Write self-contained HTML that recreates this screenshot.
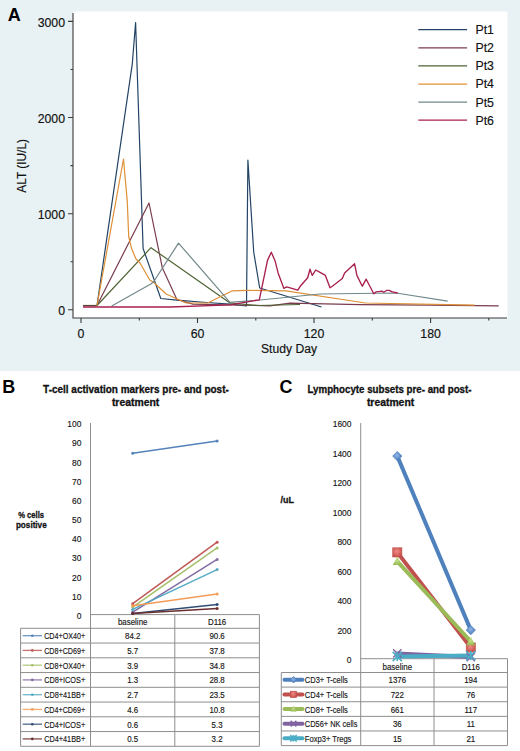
<!DOCTYPE html>
<html><head><meta charset="utf-8"><style>
html,body{margin:0;padding:0;background:#fff;width:520px;height:751px;overflow:hidden}
svg{display:block}
text{font-family:"Liberation Sans", sans-serif;fill:#111}
.a{font-size:12.3px;fill:#111;stroke:#111;stroke-width:0.15px}
.p{font-size:18px;font-weight:bold;fill:#000}
text[font-weight="bold"]{fill:#111;stroke:#111;stroke-width:0.3px}
.cr{stroke:#222;stroke-width:0.15px}
</style></head><body>
<svg width="520" height="751" viewBox="0 0 520 751">
<rect x="0" y="0" width="520" height="371" fill="#e8f1f3"/>
<rect x="73" y="11.5" width="434.5" height="306.5" fill="#fff"/>
<path d="M73 13V318H507" fill="none" stroke="#3a3a3a" stroke-width="1.1"/>
<path d="M68 309.8H73 M68 213.7H73 M68 117.5H73 M68 21.4H73 M70.5 261.7H73 M70.5 165.6H73 M70.5 69.5H73 M81.0 318V323 M197.5 318V323 M314.0 318V323 M430.6 318V323 M139.3 318V320.5 M255.8 318V320.5 M372.3 318V320.5 M488.8 318V320.5" stroke="#3a3a3a" stroke-width="1.1" fill="none"/>
<text x="65" y="315.0" text-anchor="end" class="a">0</text>
<text x="65" y="218.9" text-anchor="end" class="a">1000</text>
<text x="65" y="122.7" text-anchor="end" class="a">2000</text>
<text x="65" y="26.6" text-anchor="end" class="a">3000</text>
<text x="81.0" y="337.9" text-anchor="middle" class="a">0</text>
<text x="197.5" y="337.9" text-anchor="middle" class="a">60</text>
<text x="314.0" y="337.9" text-anchor="middle" class="a">120</text>
<text x="430.6" y="337.9" text-anchor="middle" class="a">180</text>
<text x="289" y="352.6" text-anchor="middle" class="a" textLength="56" lengthAdjust="spacingAndGlyphs">Study Day</text>
<text transform="translate(26 165.9) rotate(-90)" text-anchor="middle" class="a" style="font-size:11.9px">ALT (IU/L)</text>
<text x="7.8" y="20.8" class="p">A</text>
<path d="M418.3 29.7H467.1" stroke="#234466" stroke-width="1.25"/>
<text x="475.5" y="34.1" class="a">Pt1</text>
<path d="M418.3 47.8H467.1" stroke="#7a3c4c" stroke-width="1.25"/>
<text x="475.5" y="52.2" class="a">Pt2</text>
<path d="M418.3 65.9H467.1" stroke="#4e6434" stroke-width="1.25"/>
<text x="475.5" y="70.3" class="a">Pt3</text>
<path d="M418.3 84.0H467.1" stroke="#de9036" stroke-width="1.25"/>
<text x="475.5" y="88.4" class="a">Pt4</text>
<path d="M418.3 102.1H467.1" stroke="#72888a" stroke-width="1.25"/>
<text x="475.5" y="106.5" class="a">Pt5</text>
<path d="M418.3 120.2H467.1" stroke="#a82050" stroke-width="1.25"/>
<text x="475.5" y="124.6" class="a">Pt6</text>
<polyline points="83.0,305.5 97.0,305.5 132.3,63.8 135.6,22.5 143.1,248.5 160.8,298.5 176.9,300.2 206.9,302.5 230.0,304.2 246.5,306.0 247.9,160.0 253.7,252.0 259.7,288.0 321.5,307.0" fill="none" stroke="#234466" stroke-width="1.2" stroke-linejoin="round"/>
<polyline points="83.0,305.5 97.0,305.5 149.0,203.0 162.3,267.7 176.9,299.5 193.0,304.2 270.0,305.8 290.0,303.2 360.0,304.6 430.0,305.2 498.7,305.8" fill="none" stroke="#7a3c4c" stroke-width="1.2" stroke-linejoin="round"/>
<polyline points="83.0,305.5 97.0,305.5 151.0,247.7 230.0,303.0 258.0,305.5 300.0,304.5" fill="none" stroke="#4e6434" stroke-width="1.2" stroke-linejoin="round"/>
<polyline points="83.0,305.5 97.0,305.5 123.5,159.0 127.3,201.9 128.7,236.5 131.6,248.6 136.0,259.0 140.0,263.0 149.8,280.0 153.8,282.5 166.2,294.0 186.0,303.0 207.7,303.0 232.3,290.8 247.0,290.4 286.0,290.8 365.4,303.0 474.5,305.1" fill="none" stroke="#de9036" stroke-width="1.2" stroke-linejoin="round"/>
<path d="M83 305.6H96.5" stroke="#5e4a34" stroke-width="1.4"/>
<polyline points="111.7,306.0 150.8,284.0 153.5,282.0 178.5,243.1 230.0,302.3 260.0,300.0 300.0,296.0 320.0,294.0 396.0,293.0 447.7,301.1" fill="none" stroke="#72888a" stroke-width="1.2" stroke-linejoin="round"/>
<polyline points="83.0,307.0 170.0,307.0 230.0,304.8 259.3,299.8 267.5,260.4 271.3,252.2 275.2,261.3 278.1,272.9 283.8,288.3 286.7,286.8 297.8,290.2 300.2,286.3 307.7,277.7 310.0,269.2 312.3,275.4 315.7,270.0 320.0,272.3 325.4,275.4 330.0,287.7 332.3,286.2 342.3,278.5 344.6,273.0 354.6,263.8 356.9,275.4 362.3,286.2 366.2,279.2 373.8,293.8 376.2,291.8 382.3,291.2 383.8,292.3 386.9,290.3 389.2,290.3 392.3,291.8 397.7,293.0" fill="none" stroke="#a82050" stroke-width="1.35" stroke-linejoin="round"/>
<text x="2.2" y="392.6" class="p">B</text>
<text x="43.1" y="392.8" font-size="10.2" font-weight="bold" textLength="185.7" lengthAdjust="spacingAndGlyphs">T-cell activation markers pre- and post-</text>
<text x="111.9" y="406" font-size="10.2" font-weight="bold" textLength="47.4" lengthAdjust="spacingAndGlyphs">treatment</text>
<text x="18.2" y="517.6" font-size="9.6" font-weight="bold" textLength="25.9" lengthAdjust="spacingAndGlyphs">% cells</text>
<text x="15.9" y="528.3" font-size="9.6" font-weight="bold" textLength="30.8" lengthAdjust="spacingAndGlyphs">positive</text>
<text class="cr" x="76.71" y="618.90" font-size="9.8" fill="#222" textLength="4.69" lengthAdjust="spacingAndGlyphs">0</text>
<text class="cr" x="72.03" y="599.74" font-size="9.8" fill="#222" textLength="9.37" lengthAdjust="spacingAndGlyphs">10</text>
<text class="cr" x="72.03" y="580.58" font-size="9.8" fill="#222" textLength="9.37" lengthAdjust="spacingAndGlyphs">20</text>
<text class="cr" x="72.03" y="561.42" font-size="9.8" fill="#222" textLength="9.37" lengthAdjust="spacingAndGlyphs">30</text>
<text class="cr" x="72.03" y="542.26" font-size="9.8" fill="#222" textLength="9.37" lengthAdjust="spacingAndGlyphs">40</text>
<text class="cr" x="72.03" y="523.10" font-size="9.8" fill="#222" textLength="9.37" lengthAdjust="spacingAndGlyphs">50</text>
<text class="cr" x="72.03" y="503.94" font-size="9.8" fill="#222" textLength="9.37" lengthAdjust="spacingAndGlyphs">60</text>
<text class="cr" x="72.03" y="484.78" font-size="9.8" fill="#222" textLength="9.37" lengthAdjust="spacingAndGlyphs">70</text>
<text class="cr" x="72.03" y="465.62" font-size="9.8" fill="#222" textLength="9.37" lengthAdjust="spacingAndGlyphs">80</text>
<text class="cr" x="72.03" y="446.46" font-size="9.8" fill="#222" textLength="9.37" lengthAdjust="spacingAndGlyphs">90</text>
<text class="cr" x="67.34" y="427.30" font-size="9.8" fill="#222" textLength="14.06" lengthAdjust="spacingAndGlyphs">100</text>
<path d="M90.5 423V746.3 M90.5 614.6H259.4 M20.6 628.30H259.4 M20.6 643.05H259.4 M20.6 657.80H259.4 M20.6 672.55H259.4 M20.6 687.30H259.4 M20.6 702.05H259.4 M20.6 716.80H259.4 M20.6 731.55H259.4 M20.6 746.30H259.4 M20.6 628.3V746.3 M174.8 614.6V746.3 M259.4 614.6V746.3" stroke="#8e8e8e" stroke-width="1" fill="none"/>
<text class="cr" x="117.95" y="624.80" font-size="9.0" fill="#222" textLength="29.50" lengthAdjust="spacingAndGlyphs">baseline</text>
<text class="cr" x="207.93" y="624.80" font-size="9.0" fill="#222" textLength="18.35" lengthAdjust="spacingAndGlyphs">D116</text>
<path d="M132.7 453.3L217.1 441.0" stroke="#5583ba" stroke-width="1.5"/>
<circle cx="132.7" cy="453.3" r="1.5" fill="#5583ba"/><circle cx="217.1" cy="441.0" r="1.5" fill="#5583ba"/>
<path d="M22.7 635.7H42" stroke="#5583ba" stroke-width="1.3" stroke-opacity="0.85"/><circle cx="32.3" cy="635.7" r="1.3" fill="#5583ba"/>
<text class="cr" x="44.2" y="639.1" font-size="9.9" fill="#222" textLength="41" lengthAdjust="spacingAndGlyphs">CD4+OX40+</text>
<text class="cr" x="124.99" y="639.20" font-size="9.0" fill="#222" textLength="15.41" lengthAdjust="spacingAndGlyphs">84.2</text>
<text class="cr" x="209.39" y="639.20" font-size="9.0" fill="#222" textLength="15.41" lengthAdjust="spacingAndGlyphs">90.6</text>
<path d="M132.7 603.7L217.1 542.2" stroke="#c05856" stroke-width="1.5"/>
<circle cx="132.7" cy="603.7" r="1.5" fill="#c05856"/><circle cx="217.1" cy="542.2" r="1.5" fill="#c05856"/>
<path d="M22.7 650.4H42" stroke="#c05856" stroke-width="1.3" stroke-opacity="0.85"/><circle cx="32.3" cy="650.4" r="1.3" fill="#c05856"/>
<text class="cr" x="44.2" y="653.8" font-size="9.9" fill="#222" textLength="41" lengthAdjust="spacingAndGlyphs">CD8+CD69+</text>
<text class="cr" x="127.19" y="653.95" font-size="9.0" fill="#222" textLength="11.01" lengthAdjust="spacingAndGlyphs">5.7</text>
<text class="cr" x="209.39" y="653.95" font-size="9.0" fill="#222" textLength="15.41" lengthAdjust="spacingAndGlyphs">37.8</text>
<path d="M132.7 607.1L217.1 547.9" stroke="#a5bf6a" stroke-width="1.5"/>
<circle cx="132.7" cy="607.1" r="1.5" fill="#a5bf6a"/><circle cx="217.1" cy="547.9" r="1.5" fill="#a5bf6a"/>
<path d="M22.7 665.2H42" stroke="#a5bf6a" stroke-width="1.3" stroke-opacity="0.85"/><circle cx="32.3" cy="665.2" r="1.3" fill="#a5bf6a"/>
<text class="cr" x="44.2" y="668.6" font-size="9.9" fill="#222" textLength="41" lengthAdjust="spacingAndGlyphs">CD8+OX40+</text>
<text class="cr" x="127.19" y="668.70" font-size="9.0" fill="#222" textLength="11.01" lengthAdjust="spacingAndGlyphs">3.9</text>
<text class="cr" x="209.39" y="668.70" font-size="9.0" fill="#222" textLength="15.41" lengthAdjust="spacingAndGlyphs">34.8</text>
<path d="M132.7 612.1L217.1 559.4" stroke="#826ca3" stroke-width="1.5"/>
<circle cx="132.7" cy="612.1" r="1.5" fill="#826ca3"/><circle cx="217.1" cy="559.4" r="1.5" fill="#826ca3"/>
<path d="M22.7 679.9H42" stroke="#826ca3" stroke-width="1.3" stroke-opacity="0.85"/><circle cx="32.3" cy="679.9" r="1.3" fill="#826ca3"/>
<text class="cr" x="44.2" y="683.3" font-size="9.9" fill="#222" textLength="41" lengthAdjust="spacingAndGlyphs">CD8+ICOS+</text>
<text class="cr" x="127.19" y="683.45" font-size="9.0" fill="#222" textLength="11.01" lengthAdjust="spacingAndGlyphs">1.3</text>
<text class="cr" x="209.39" y="683.45" font-size="9.0" fill="#222" textLength="15.41" lengthAdjust="spacingAndGlyphs">28.8</text>
<path d="M132.7 609.4L217.1 569.6" stroke="#55aac3" stroke-width="1.5"/>
<circle cx="132.7" cy="609.4" r="1.5" fill="#55aac3"/><circle cx="217.1" cy="569.6" r="1.5" fill="#55aac3"/>
<path d="M22.7 694.7H42" stroke="#55aac3" stroke-width="1.3" stroke-opacity="0.85"/><circle cx="32.3" cy="694.7" r="1.3" fill="#55aac3"/>
<text class="cr" x="44.2" y="698.1" font-size="9.9" fill="#222" textLength="41" lengthAdjust="spacingAndGlyphs">CD8+41BB+</text>
<text class="cr" x="127.19" y="698.20" font-size="9.0" fill="#222" textLength="11.01" lengthAdjust="spacingAndGlyphs">2.7</text>
<text class="cr" x="209.39" y="698.20" font-size="9.0" fill="#222" textLength="15.41" lengthAdjust="spacingAndGlyphs">23.5</text>
<path d="M132.7 605.8L217.1 593.9" stroke="#f39c58" stroke-width="1.5"/>
<circle cx="132.7" cy="605.8" r="1.5" fill="#f39c58"/><circle cx="217.1" cy="593.9" r="1.5" fill="#f39c58"/>
<path d="M22.7 709.4H42" stroke="#f39c58" stroke-width="1.3" stroke-opacity="0.85"/><circle cx="32.3" cy="709.4" r="1.3" fill="#f39c58"/>
<text class="cr" x="44.2" y="712.8" font-size="9.9" fill="#222" textLength="41" lengthAdjust="spacingAndGlyphs">CD4+CD69+</text>
<text class="cr" x="127.19" y="712.95" font-size="9.0" fill="#222" textLength="11.01" lengthAdjust="spacingAndGlyphs">4.6</text>
<text class="cr" x="209.39" y="712.95" font-size="9.0" fill="#222" textLength="15.41" lengthAdjust="spacingAndGlyphs">10.8</text>
<path d="M132.7 613.5L217.1 604.4" stroke="#2f4c72" stroke-width="1.5"/>
<circle cx="132.7" cy="613.5" r="1.5" fill="#2f4c72"/><circle cx="217.1" cy="604.4" r="1.5" fill="#2f4c72"/>
<path d="M22.7 724.2H42" stroke="#2f4c72" stroke-width="1.3" stroke-opacity="0.85"/><circle cx="32.3" cy="724.2" r="1.3" fill="#2f4c72"/>
<text class="cr" x="44.2" y="727.6" font-size="9.9" fill="#222" textLength="41" lengthAdjust="spacingAndGlyphs">CD4+ICOS+</text>
<text class="cr" x="127.19" y="727.70" font-size="9.0" fill="#222" textLength="11.01" lengthAdjust="spacingAndGlyphs">0.6</text>
<text class="cr" x="211.59" y="727.70" font-size="9.0" fill="#222" textLength="11.01" lengthAdjust="spacingAndGlyphs">5.3</text>
<path d="M132.7 613.6L217.1 608.5" stroke="#6c2e2e" stroke-width="1.5"/>
<circle cx="132.7" cy="613.6" r="1.5" fill="#6c2e2e"/><circle cx="217.1" cy="608.5" r="1.5" fill="#6c2e2e"/>
<path d="M22.7 738.9H42" stroke="#6c2e2e" stroke-width="1.3" stroke-opacity="0.85"/><circle cx="32.3" cy="738.9" r="1.3" fill="#6c2e2e"/>
<text class="cr" x="44.2" y="742.3" font-size="9.9" fill="#222" textLength="41" lengthAdjust="spacingAndGlyphs">CD4+41BB+</text>
<text class="cr" x="127.19" y="742.45" font-size="9.0" fill="#222" textLength="11.01" lengthAdjust="spacingAndGlyphs">0.5</text>
<text class="cr" x="211.59" y="742.45" font-size="9.0" fill="#222" textLength="11.01" lengthAdjust="spacingAndGlyphs">3.2</text>
<text x="279.5" y="392.6" class="p">C</text>
<text x="307.5" y="392.6" font-size="10.2" font-weight="bold" textLength="164" lengthAdjust="spacingAndGlyphs">Lymphocyte subsets pre- and post-</text>
<text x="366.9" y="406" font-size="10.2" font-weight="bold" textLength="47.3" lengthAdjust="spacingAndGlyphs">treatment</text>
<text x="280.6" y="503.1" font-size="9.6" font-weight="bold" textLength="13.4" lengthAdjust="spacingAndGlyphs">/uL</text>
<text class="cr" x="346.81" y="663.00" font-size="9.8" fill="#222" textLength="4.69" lengthAdjust="spacingAndGlyphs">0</text>
<text class="cr" x="337.44" y="633.55" font-size="9.8" fill="#222" textLength="14.06" lengthAdjust="spacingAndGlyphs">200</text>
<text class="cr" x="337.44" y="604.10" font-size="9.8" fill="#222" textLength="14.06" lengthAdjust="spacingAndGlyphs">400</text>
<text class="cr" x="337.44" y="574.65" font-size="9.8" fill="#222" textLength="14.06" lengthAdjust="spacingAndGlyphs">600</text>
<text class="cr" x="337.44" y="545.20" font-size="9.8" fill="#222" textLength="14.06" lengthAdjust="spacingAndGlyphs">800</text>
<text class="cr" x="332.75" y="515.75" font-size="9.8" fill="#222" textLength="18.75" lengthAdjust="spacingAndGlyphs">1000</text>
<text class="cr" x="332.75" y="486.30" font-size="9.8" fill="#222" textLength="18.75" lengthAdjust="spacingAndGlyphs">1200</text>
<text class="cr" x="332.75" y="456.85" font-size="9.8" fill="#222" textLength="18.75" lengthAdjust="spacingAndGlyphs">1400</text>
<text class="cr" x="332.75" y="427.40" font-size="9.8" fill="#222" textLength="18.75" lengthAdjust="spacingAndGlyphs">1600</text>
<path d="M360.7 423.1V745.6 M360.7 658.7H507.5 M281.3 672.50H507.5 M281.3 687.12H507.5 M281.3 701.74H507.5 M281.3 716.36H507.5 M281.3 730.98H507.5 M281.3 745.60H507.5 M281.3 672.5V745.6 M434 658.7V745.6 M507.5 658.7V745.6" stroke="#8e8e8e" stroke-width="1" fill="none"/>
<text class="cr" x="382.55" y="669.80" font-size="9.0" fill="#222" textLength="29.50" lengthAdjust="spacingAndGlyphs">baseline</text>
<text class="cr" x="461.63" y="669.80" font-size="9.0" fill="#222" textLength="18.35" lengthAdjust="spacingAndGlyphs">D116</text>
<defs><radialGradient id="gb" cx="0.45" cy="0.4" r="0.6"><stop offset="0" stop-color="#8fb4e3"/><stop offset="1" stop-color="#4a7cc0"/></radialGradient><radialGradient id="gr" cx="0.45" cy="0.4" r="0.6"><stop offset="0" stop-color="#f08a86"/><stop offset="1" stop-color="#c8504c"/></radialGradient><radialGradient id="gg" cx="0.45" cy="0.4" r="0.6"><stop offset="0" stop-color="#c4e08a"/><stop offset="1" stop-color="#98bb55"/></radialGradient></defs>
<path d="M284.5 679.8H302.5" stroke="#4f81bd" stroke-width="4" stroke-linecap="round"/>
<path d="M293.5 676.6L296.7 679.8L293.5 683L290.3 679.8Z" fill="url(#gb)" stroke="#4f81bd" stroke-width="0.8"/>
<text class="cr" x="304.8" y="683.3" font-size="9.9" fill="#222" textLength="43" lengthAdjust="spacingAndGlyphs">CD3+ T-cells</text>
<text class="cr" x="388.49" y="683.40" font-size="9.0" fill="#222" textLength="17.62" lengthAdjust="spacingAndGlyphs">1376</text>
<text class="cr" x="464.19" y="683.40" font-size="9.0" fill="#222" textLength="13.21" lengthAdjust="spacingAndGlyphs">194</text>
<path d="M284.5 694.4H302.5" stroke="#c0504d" stroke-width="4" stroke-linecap="round"/>
<rect x="290.3" y="691.2" width="6.4" height="6.4" fill="url(#gr)" stroke="#c0504d" stroke-width="0.6"/>
<text class="cr" x="304.8" y="697.9" font-size="9.9" fill="#222" textLength="43" lengthAdjust="spacingAndGlyphs">CD4+ T-cells</text>
<text class="cr" x="390.69" y="698.02" font-size="9.0" fill="#222" textLength="13.21" lengthAdjust="spacingAndGlyphs">722</text>
<text class="cr" x="466.40" y="698.02" font-size="9.0" fill="#222" textLength="8.81" lengthAdjust="spacingAndGlyphs">76</text>
<path d="M284.5 709.0H302.5" stroke="#9bbb59" stroke-width="4" stroke-linecap="round"/>
<path d="M293.5 705.8L296.7 711.56L290.3 711.56Z" fill="url(#gg)"/>
<text class="cr" x="304.8" y="712.5" font-size="9.9" fill="#222" textLength="43" lengthAdjust="spacingAndGlyphs">CD8+ T-cells</text>
<text class="cr" x="390.69" y="712.64" font-size="9.0" fill="#222" textLength="13.21" lengthAdjust="spacingAndGlyphs">661</text>
<text class="cr" x="464.49" y="712.64" font-size="9.0" fill="#222" textLength="12.63" lengthAdjust="spacingAndGlyphs">117</text>
<path d="M284.5 723.7H302.5" stroke="#8064a2" stroke-width="4" stroke-linecap="round"/>
<path d="M290.62 720.82L296.38 726.58M296.38 720.82L290.62 726.58" stroke="#8064a2" stroke-width="1.4"/>
<text class="cr" x="304.8" y="727.2" font-size="9.9" fill="#222" textLength="52.6" lengthAdjust="spacingAndGlyphs">CD56+ NK cells</text>
<text class="cr" x="392.90" y="727.26" font-size="9.0" fill="#222" textLength="8.81" lengthAdjust="spacingAndGlyphs">36</text>
<text class="cr" x="466.69" y="727.26" font-size="9.0" fill="#222" textLength="8.22" lengthAdjust="spacingAndGlyphs">11</text>
<path d="M284.5 738.3H302.5" stroke="#4bacc6" stroke-width="4" stroke-linecap="round"/>
<path d="M290.3 735.1L296.7 741.5M296.7 735.1L290.3 741.5M293.5 735.1V741.5" stroke="#4bacc6" stroke-width="1.6"/>
<text class="cr" x="304.8" y="741.8" font-size="9.9" fill="#222" textLength="46.6" lengthAdjust="spacingAndGlyphs">Foxp3+ Tregs</text>
<text class="cr" x="392.90" y="741.88" font-size="9.0" fill="#222" textLength="8.81" lengthAdjust="spacingAndGlyphs">15</text>
<text class="cr" x="466.40" y="741.88" font-size="9.0" fill="#222" textLength="8.81" lengthAdjust="spacingAndGlyphs">21</text>
<path d="M397.3 456.1L470.8 630.1" stroke="#4f81bd" stroke-width="4.0" stroke-linecap="round"/>
<path d="M397.3 552.4L470.8 647.5" stroke="#c0504d" stroke-width="4.0" stroke-linecap="round"/>
<path d="M397.3 561.4L470.8 641.5" stroke="#9bbb59" stroke-width="4.0" stroke-linecap="round"/>
<path d="M397.3 653.4L470.8 657.1" stroke="#8064a2" stroke-width="4.0" stroke-linecap="round"/>
<path d="M397.3 656.5L470.8 655.6" stroke="#4bacc6" stroke-width="4.0" stroke-linecap="round"/>
<path d="M397.3 451.5L401.9 456.1L397.3 460.7L392.7 456.1Z" fill="url(#gb)" stroke="#4f81bd" stroke-width="0.8"/>
<path d="M470.8 625.5L475.4 630.1L470.8 634.7L466.2 630.1Z" fill="url(#gb)" stroke="#4f81bd" stroke-width="0.8"/>
<rect x="392.7" y="547.8" width="9.2" height="9.2" fill="url(#gr)" stroke="#c0504d" stroke-width="0.6"/>
<rect x="466.2" y="642.9" width="9.2" height="9.2" fill="url(#gr)" stroke="#c0504d" stroke-width="0.6"/>
<path d="M397.3 556.8L401.9 565.08L392.7 565.08Z" fill="url(#gg)"/>
<path d="M470.8 636.9L475.4 645.18L466.2 645.18Z" fill="url(#gg)"/>
<path d="M393.16 649.26L401.44 657.54M401.44 649.26L393.16 657.54" stroke="#8064a2" stroke-width="1.4"/>
<path d="M466.66 652.96L474.94 661.24M474.94 652.96L466.66 661.24" stroke="#8064a2" stroke-width="1.4"/>
<path d="M392.7 651.9L401.9 661.1M401.9 651.9L392.7 661.1M397.3 651.9V661.1" stroke="#4bacc6" stroke-width="1.6"/>
<path d="M466.2 651L475.4 660.2M475.4 651L466.2 660.2M470.8 651V660.2" stroke="#4bacc6" stroke-width="1.6"/>
</svg>
</body></html>
